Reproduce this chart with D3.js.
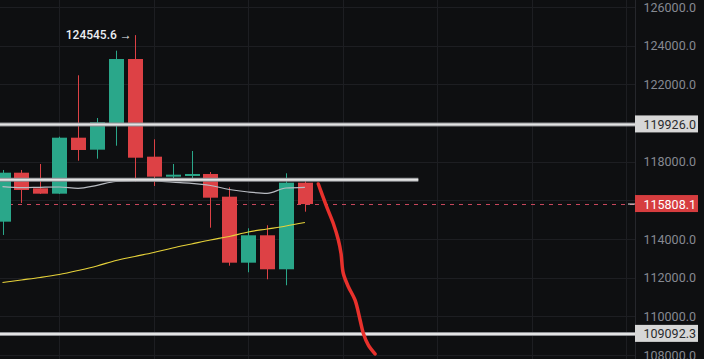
<!DOCTYPE html>
<html lang="en">

<head>
    <meta charset="UTF-8">
    <title>Candlestick Chart</title>
    <style>
        html, body { margin: 0; padding: 0; background: #0e0f11; overflow: hidden; }
        svg { display: block; }
    </style>
</head>

<body>
    <script src="https://d3js.org/d3.v7.min.js"></script>
    <script>
        // candle data, left to right
        const opens  = [114896, 117430, 116623, 116344, 119240, 118620, 120000, 123310, 118258, 117223, 117260, 117363, 116189, 112775, 114192, 112434, 116913];
        const highs  = [117570, 117570, 117880, 119292, 122468, 120259, 123740, 124545.6, 119157, 117880, 118552, 117466, 116675, 114554, 114710, 117399, 117016];
        const lows   = [114208, 115863, 116328, 116330, 118050, 118154, 118826, 116965, 116742, 117088, 117088, 114585, 112620, 112279, 111917, 111607, 115413];
        const closes = [117430, 116535, 116344, 119240, 118604, 120037, 123310, 118205, 117223, 117327, 117363, 116137, 112775, 114192, 112434, 116913, 115808.1];

        // moving averages
        const maShort = [116706, 116654, 116675, 116690, 116623, 116778, 116975, 117001, 117001, 116934, 116882, 116768, 116561, 116432, 116365, 116639, 116675];
        const maLong  = [111751, 111880, 112010, 112165, 112372, 112605, 112889, 113096, 113303, 113536, 113743, 113950, 114131, 114363, 114518, 114674, 114855];

        const yTicks = [126000, 124000, 122000, 120000, 118000, 116000, 114000, 112000, 110000, 108000];
        const xGrid = [3, 8, 13, 18, 23, 28, 33];

        const levelPrices = [119926.0, 109092.3];
        const midLevelPrice = 117060;
        const midLevelEnd = 22;
        const lastPrice = 115808.1;
        const highLabel = '124545.6 →';

        // hand drawn stroke (bar index, price)
        const sketchIdx   = [16.71, 16.89, 17.15, 17.50, 17.77, 17.91, 18.03, 18.30, 18.65, 18.92, 19.09, 19.35, 19.71];
        const sketchPrice = [116845, 116365, 115672, 114813, 113949, 113261, 112227, 111534, 110846, 109812, 109124, 108519, 108054];

        const W = 704, H = 359;
        const plotW = 635;
        const BODY = 15;
        const UP = '#2aa78a', DOWN = '#dd4145';

        const svg = d3.select('body').append('svg').attr('width', W).attr('height', H);
        svg.append('rect').attr('width', W).attr('height', H).attr('fill', '#0e0f11');

        const x = d3.scaleLinear().domain([0, 16]).range([2.5, 304.9]);
        const y = d3.scaleLinear().domain([126000, 108000]).range([7, 355]);

        const candles = opens.map((o, i) => ({ i, o, h: highs[i], l: lows[i], c: closes[i] }));

        // grid
        const grid = svg.append('g');
        grid.selectAll('line.h').data(yTicks).enter().append('line')
            .attr('x1', 0).attr('x2', plotW)
            .attr('y1', d => Math.round(y(d)) + 0.5).attr('y2', d => Math.round(y(d)) + 0.5)
            .attr('stroke', '#1d1e22');
        grid.selectAll('line.v').data(xGrid).enter().append('line')
            .attr('y1', 0).attr('y2', H)
            .attr('x1', d => Math.round(x(d)) + 0.5).attr('x2', d => Math.round(x(d)) + 0.5)
            .attr('stroke', '#1d1e22');

        // right axis border
        svg.append('line').attr('x1', plotW + 0.5).attr('x2', plotW + 0.5).attr('y1', 0).attr('y2', H)
            .attr('stroke', '#26272c');

        // last price dashed line
        svg.append('line')
            .attr('x1', 0).attr('x2', plotW)
            .attr('y1', Math.round(y(lastPrice)) + 0.5).attr('y2', Math.round(y(lastPrice)) + 0.5)
            .attr('stroke', '#c8465c').attr('stroke-dasharray', '4,5');

        // candles
        const cg = svg.append('g');
        cg.selectAll('line').data(candles).enter().append('line')
            .attr('x1', d => Math.round(x(d.i)) + 0.5).attr('x2', d => Math.round(x(d.i)) + 0.5)
            .attr('y1', d => y(d.h)).attr('y2', d => y(d.l))
            .attr('stroke', d => d.c >= d.o ? UP : DOWN);
        cg.selectAll('rect').data(candles).enter().append('rect')
            .attr('x', d => Math.round(x(d.i)) - 7)
            .attr('width', BODY)
            .attr('y', d => y(Math.max(d.o, d.c)))
            .attr('height', d => Math.max(1.5, Math.abs(y(d.o) - y(d.c))))
            .attr('fill', d => d.c >= d.o ? UP : DOWN);

        // moving averages
        const line = d3.line().x((d, i) => x(i)).y(d => y(d)).curve(d3.curveMonotoneX);
        svg.append('path').datum(maShort).attr('d', line)
            .attr('fill', 'none').attr('stroke', '#b9bcc2').attr('stroke-width', 1.2);
        svg.append('path').datum(maLong).attr('d', line)
            .attr('fill', 'none').attr('stroke', '#e6d23a').attr('stroke-width', 1.2);

        // horizontal levels
        const drawLevel = (price, x2) => {
            const yy = y(price);
            svg.append('line').attr('x1', 0).attr('x2', x2).attr('y1', yy).attr('y2', yy)
                .attr('stroke', '#8d8e92').attr('stroke-width', 4);
            svg.append('line').attr('x1', 0).attr('x2', x2).attr('y1', yy).attr('y2', yy)
                .attr('stroke', '#e4e4e4').attr('stroke-width', 2);
        };
        levelPrices.forEach(p => drawLevel(p, plotW));
        drawLevel(midLevelPrice, x(midLevelEnd));

        // hand drawn red stroke
        const sketch = sketchIdx.map((d, i) => [x(d), y(sketchPrice[i])]);
        svg.append('path').datum(sketch)
            .attr('d', d3.line().curve(d3.curveCatmullRom))
            .attr('fill', 'none').attr('stroke', '#e8312c').attr('stroke-width', 3.5)
            .attr('stroke-linecap', 'round').attr('stroke-linejoin', 'round');

        // high annotation
        const hiIdx = highs.indexOf(d3.max(highs));
        svg.append('text')
            .attr('x', x(hiIdx) - 3).attr('y', y(highs[hiIdx]) + 4)
            .attr('text-anchor', 'end')
            .attr('fill', '#eceef2')
            .style('font', '500 12px Roboto, sans-serif')
            .text(highLabel);

        // axis labels
        const hidden = [120000, 116000];
        svg.append('g').selectAll('text').data(yTicks.filter(d => !hidden.includes(d))).enter().append('text')
            .attr('x', 696).attr('y', d => y(d) + 4.5)
            .attr('text-anchor', 'end')
            .attr('fill', '#868991')
            .style('font', '12.5px Roboto, sans-serif')
            .text(d => d3.format('.1f')(d));

        // price boxes
        const priceBox = (price, bg, fg) => {
            const yy = y(price);
            svg.append('rect').attr('x', plotW).attr('y', yy - 9).attr('width', 63).attr('height', 17)
                .attr('fill', bg);
            svg.append('text').attr('x', 696).attr('y', yy + 4.5)
                .attr('text-anchor', 'end').attr('fill', fg)
                .style('font', '12.5px Roboto, sans-serif')
                .text(d3.format('.1f')(price));
        };
        priceBox(levelPrices[0], '#d7d7d7', '#2a2b2e');
        priceBox(levelPrices[1], '#d7d7d7', '#2a2b2e');
        svg.append('line').attr('x1', 628).attr('x2', plotW).attr('y1', y(lastPrice)).attr('y2', y(lastPrice))
            .attr('stroke', '#e3e3e3');
        priceBox(lastPrice, '#d63d3f', '#ffffff');
    </script>
</body>

</html>
